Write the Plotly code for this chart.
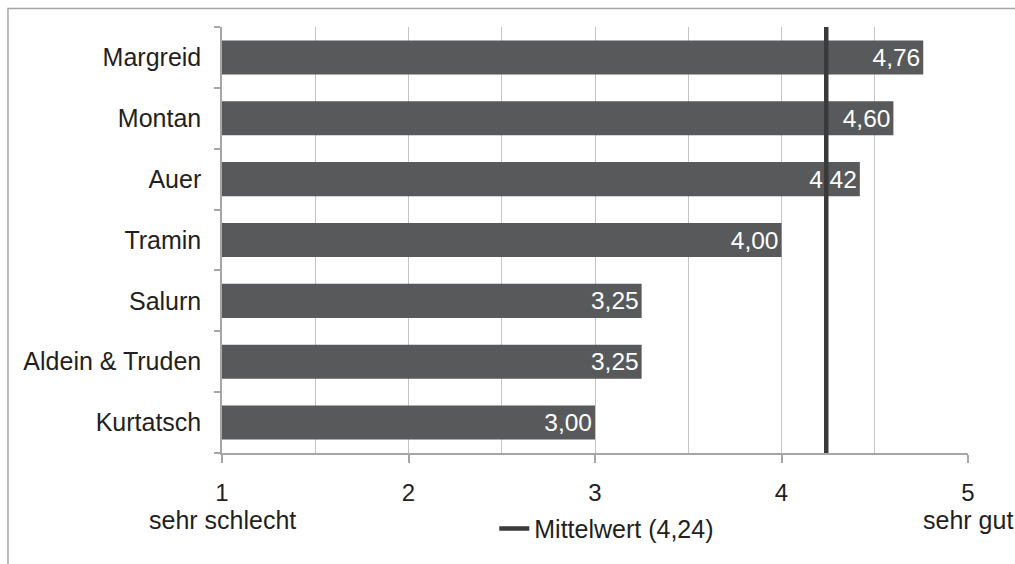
import plotly.graph_objects as go

# Ratings per municipality (1 = sehr schlecht, 5 = sehr gut)
gemeinden = ["Margreid", "Montan", "Auer", "Tramin", "Salurn", "Aldein & Truden", "Kurtatsch"]
bewertung = [4.76, 4.60, 4.42, 4.00, 3.25, 3.25, 3.00]
mittelwert = 4.24
x_ticks = [1, 2, 3, 4, 5]

FONT = "Liberation Sans, Arial, Helvetica, sans-serif"
BAR = "#58595b"
INK = "#231f20"
AXIS = "#a6a6a6"
GRID = "#c4c4c4"

fig = go.Figure()

fig.add_trace(go.Bar(
    x=bewertung,
    y=gemeinden,
    orientation="h",
    marker=dict(color=BAR, line=dict(width=0)),
    width=0.56,
    texttemplate="%{x:.2f}",
    textposition="inside",
    insidetextanchor="end",
    textfont=dict(color="white", size=24.5, family=FONT),
    showlegend=False,
    hoverinfo="skip",
))

# Mean rating as a vertical line across the full plot height
fig.add_shape(
    type="line", xref="x", yref="paper",
    x0=mittelwert, x1=mittelwert, y0=0, y1=1,
    line=dict(color="#3a3a3a", width=4.5),
    layer="above",
    name=f"Mittelwert ({mittelwert:.2f})".replace(".", ","),
    showlegend=True,
)

# Outer frame
fig.add_shape(
    type="rect", xref="paper", yref="paper",
    x0=-0.2869, x1=1.5, y0=-0.6, y1=1.0433,
    line=dict(color=AXIS, width=1.5),
    fillcolor="rgba(0,0,0,0)",
    layer="below",
)

# Scale end descriptions under the first and last tick
for pos, label in [(1, "sehr schlecht"), (5, "sehr gut")]:
    fig.add_annotation(x=pos, y=-0.1565, xref="x", yref="paper", text=label,
                       showarrow=False, font=dict(size=25, color=INK, family=FONT),
                       xanchor="center", yanchor="middle")

fig.update_layout(
    width=1015, height=564,
    margin=dict(l=222, r=47, t=27, b=98),
    paper_bgcolor="white",
    plot_bgcolor="white",
    separators=",.",
    font=dict(family=FONT, size=25, color=INK),
    legend=dict(
        orientation="h",
        x=0.365, y=-0.178, xanchor="left", yanchor="middle",
        font=dict(size=25, color=INK, family=FONT),
        bgcolor="rgba(0,0,0,0)",
        itemwidth=30,
    ),
    xaxis=dict(
        range=[1, 5],
        tickvals=x_ticks,
        ticktext=[str(v) for v in x_ticks],
        ticks="outside", ticklen=8, tickcolor=AXIS, tickwidth=1.5,
        showline=True, linecolor=AXIS, linewidth=1.5,
        showgrid=True, gridcolor=GRID, gridwidth=1.2,
        minor=dict(dtick=0.5, tick0=1, showgrid=True, gridcolor=GRID, gridwidth=1.2),
        tickfont=dict(size=24, color=INK, family=FONT),
        ticklabelstandoff=9,
        zeroline=False,
        fixedrange=True,
    ),
    yaxis=dict(
        categoryorder="array",
        categoryarray=gemeinden[::-1],
        autorange=False,
        range=[-0.5, len(gemeinden) - 0.5],
        tickson="boundaries",
        ticks="outside", ticklen=6, tickcolor=AXIS, tickwidth=1.5,
        showline=True, linecolor=AXIS, linewidth=1.5,
        showgrid=False,
        tickfont=dict(size=25, color=INK, family=FONT),
        ticklabelstandoff=14,
        fixedrange=True,
    ),
)

fig.write_html("out.html")
